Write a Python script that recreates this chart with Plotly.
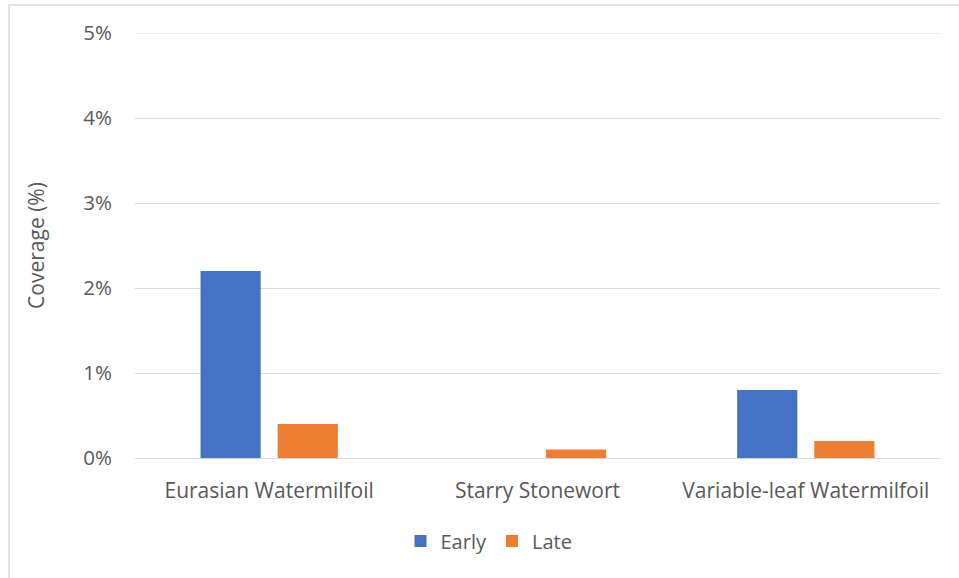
import plotly.graph_objects as go

categories = ["Eurasian Watermilfoil", "Starry Stonewort", "Variable-leaf Watermilfoil"]
early = [0.022, 0.0, 0.008]
late = [0.004, 0.001, 0.002]
tick_vals = [0, 0.01, 0.02, 0.03, 0.04, 0.05]

font_family = "Open Sans, Liberation Sans, sans-serif"
txt = "#595959"

fig = go.Figure()
fig.add_trace(go.Bar(name="Early", x=categories, y=early, marker_color="#4472C4",
                     marker_line_width=0))
fig.add_trace(go.Bar(name="Late", x=categories, y=late, marker_color="#ED7D31",
                     marker_line_width=0))

W, H = 959, 578
l, r, t, b = 135, 19, 33, 120
pw, ph = W - l - r, H - t - b

def px_x(p):
    return (p - l) / pw

def px_y(p):
    return (H - b - p) / ph

fig.update_layout(
    width=W, height=H,
    margin=dict(l=l, r=r, t=t, b=b),
    paper_bgcolor="white", plot_bgcolor="white",
    barmode="group", bargap=0.425, bargroupgap=0.22,
    font=dict(family=font_family, size=20, color=txt),
    showlegend=True,
    legend=dict(orientation="h", x=px_x(489), xanchor="center", y=px_y(541), yanchor="middle",
                font=dict(size=20, color=txt), traceorder="normal", itemwidth=30),
    yaxis=dict(range=[0, 0.05], tickvals=tick_vals, tickformat=".0%",
               showgrid=True, gridcolor="#d9d9d9", gridwidth=1,
               zeroline=False, showline=False, ticks="",
               ticklabelstandoff=22,
               tickfont=dict(size=20.5, color=txt),
               title=dict(text="Coverage (%)", font=dict(size=21, color=txt), standoff=32)),
    xaxis=dict(showline=True, linecolor="#d9d9d9", linewidth=1, ticks="",
               ticklabelstandoff=14, tickfont=dict(size=21, color=txt)),
    shapes=[dict(type="rect", xref="paper", yref="paper",
                 x0=px_x(9), x1=px_x(975), y0=px_y(5), y1=px_y(600),
                 line=dict(color="#d9d9d9", width=1.5), fillcolor="rgba(0,0,0,0)", layer="below"),
            dict(type="line", xref="paper", yref="y", x0=0, x1=1, y0=0.05, y1=0.05,
                 line=dict(color="#d9d9d9", width=1), layer="below")],
)

fig.write_html("out.html")
